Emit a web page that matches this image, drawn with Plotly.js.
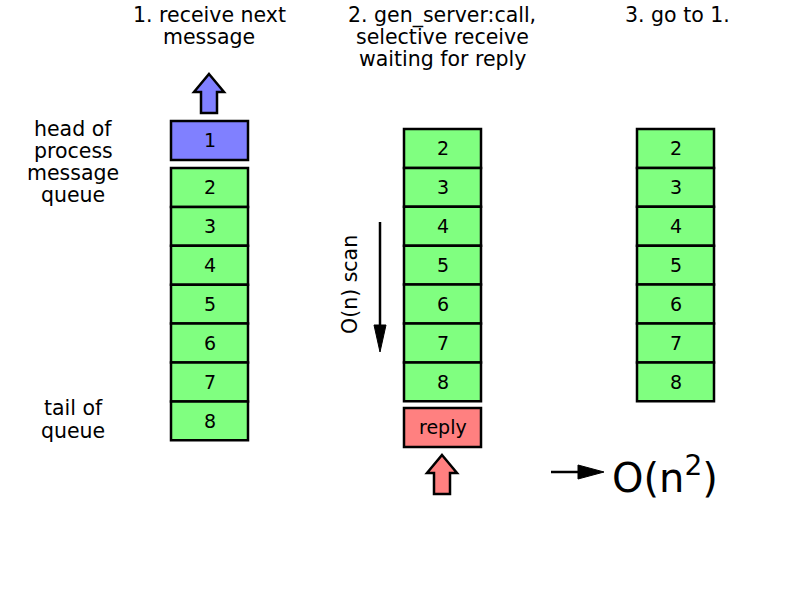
<!DOCTYPE html>
<html><head><script src="https://cdn.plot.ly/plotly-3.0.1.min.js"></script>
<style>body{margin:0}</style></head><body>
<div id="c" style="width:796px;height:597px"></div>
<script>
const col1Head = ["1"];
const col1Queue = ["2","3","4","5","6","7","8"];
const col2Queue = ["2","3","4","5","6","7","8"];
const col2Extra = ["reply"];
const col3Queue = ["2","3","4","5","6","7","8"];
const stepTitles = [["1. receive next","message"],["2. gen_server:call,","selective receive","waiting for reply"],["3. go to 1."]];
const sideLabels = [["head of","process","message","queue"],["tail of","queue"]];

const GREEN="#80ff80", BLUE="#8080ff", RED="#ff8080";
const H=38.9, W=77;
const shapes=[], ann=[];
const F={family:"DejaVu Sans",size:19,color:"#000"};
const FT={family:"DejaVu Sans",size:20.5,color:"#000"};
function box(x0,y0,label,fill){
  shapes.push({type:"rect",x0:x0,x1:x0+W,y0:y0,y1:y0+H,fillcolor:fill,line:{color:"#000",width:2.5}});
  ann.push({x:x0+W/2,y:y0+H/2,text:label,showarrow:false,font:F});
}
col1Head.forEach((l,i)=>box(171,121,l,BLUE));
col1Queue.forEach((l,i)=>box(171,168+i*H,l,GREEN));
col2Queue.forEach((l,i)=>box(404,129+i*H,l,GREEN));
col2Extra.forEach((l,i)=>box(404,408,l,RED));
col3Queue.forEach((l,i)=>box(637,129+i*H,l,GREEN));

function upArrow(cx,top,bot,fill){
  const hw=15, sw=8, hb=top+18;
  shapes.push({type:"path",path:`M${cx},${top} L${cx+hw},${hb} L${cx+sw},${hb} L${cx+sw},${bot} L${cx-sw},${bot} L${cx-sw},${hb} L${cx-hw},${hb} Z`,fillcolor:fill,line:{color:"#000",width:2.5}});
}
upArrow(209,74,113,BLUE);
upArrow(442,455,494,RED);

shapes.push({type:"line",x0:380,x1:380,y0:222,y1:335,line:{color:"#000",width:2.5}});
shapes.push({type:"path",path:"M374,325 L380,352 L386,325 Z",fillcolor:"#000",line:{color:"#000",width:1}});
shapes.push({type:"line",x0:551,x1:590,y0:472,y1:472,line:{color:"#000",width:2.5}});
shapes.push({type:"path",path:"M578,465 L604,472 L578,479 Z",fillcolor:"#000",line:{color:"#000",width:1}});

const tx=[209,442,677];
stepTitles.forEach((lines,i)=>lines.forEach((t,j)=>ann.push({x:tx[i],y:15+j*22,text:t,showarrow:false,font:FT})));
sideLabels[0].forEach((t,j)=>ann.push({x:73,y:129+j*22,text:t,showarrow:false,font:FT}));
sideLabels[1].forEach((t,j)=>ann.push({x:73,y:408+j*23,text:t,showarrow:false,font:FT}));
ann.push({x:350,y:285,text:"O(n) scan",textangle:-90,showarrow:false,font:FT});
ann.push({x:665,y:475,text:"O(n<sup>2</sup>)",showarrow:false,font:{family:"DejaVu Sans",size:40,color:"#000"}});

Plotly.newPlot("c",[{x:[0],y:[0],mode:"markers",marker:{opacity:0},hoverinfo:"skip"}],{
  width:796,height:597,margin:{l:0,r:0,t:0,b:0},showlegend:false,
  paper_bgcolor:"#fff",plot_bgcolor:"#fff",
  xaxis:{range:[0,796],visible:false,fixedrange:true},
  yaxis:{range:[597,0],visible:false,fixedrange:true},
  shapes:shapes,annotations:ann
},{staticPlot:true});
</script></body></html>
